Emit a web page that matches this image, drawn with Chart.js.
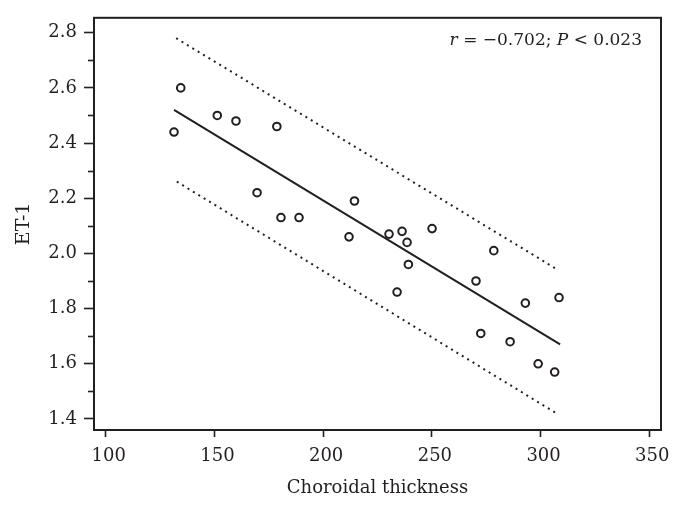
<!DOCTYPE html>
<html>
<head>
<meta charset="utf-8">
<script src="https://cdn.jsdelivr.net/npm/chart.js@4/dist/chart.umd.min.js"></script>
<style>
  html, body { margin: 0; padding: 0; background: #fff; }
  #chart { display: block; }
</style>
</head>
<body>
<canvas id="chart" width="679" height="508"></canvas>
<script>
// choroidal thickness vs ET-1
const thickness = [131.4, 134.5, 151.3, 159.9, 178.7, 169.6, 180.6, 188.9, 214.4, 211.9, 230.3, 236.3,
                   238.6, 250.1, 239.2, 234.0, 278.5, 270.3, 293.0, 308.5, 272.5, 286.0, 298.9, 306.5];
const et1 = [2.44, 2.60, 2.50, 2.48, 2.46, 2.22, 2.13, 2.13, 2.19, 2.06, 2.07, 2.08,
             2.04, 2.09, 1.96, 1.86, 2.01, 1.90, 1.82, 1.84, 1.71, 1.68, 1.60, 1.57];

// fitted line and the two prediction bounds (end points)
const fitX = [131.4, 309.0];
const fitY = [2.52, 1.67];
const upperX = [132.4, 307.0];
const upperY = [2.78, 1.945];
const lowerX = [132.7, 307.4];
const lowerY = [2.26, 1.42];

const xTicks = [100, 150, 200, 250, 300, 350];
const yTicks = [1.4, 1.6, 1.8, 2.0, 2.2, 2.4, 2.6, 2.8];
const yMinorTicks = [1.5, 1.7, 1.9, 2.1, 2.3, 2.5, 2.7];

const statText = [['r', true], [' = \u22120.702; ', false], ['P', true], [' < 0.023', false]];

const INK = '#231f20';
const FONT = "'DejaVu Serif', serif";

const toPts = (xs, ys) => xs.map((x, i) => ({ x: x, y: ys[i] }));

const framePlugin = {
  id: 'frame',
  afterDraw(chart) {
    const { ctx, chartArea: a, scales } = chart;
    ctx.save();
    ctx.strokeStyle = INK;
    ctx.lineWidth = 2;
    ctx.strokeRect(a.left, a.top, a.right - a.left, a.bottom - a.top);

    // short minor ticks on the y axis
    ctx.lineWidth = 1.6;
    yMinorTicks.forEach(v => {
      const py = Math.round(scales.y.getPixelForValue(v)) + 0.5;
      ctx.beginPath();
      ctx.moveTo(a.left - 6, py);
      ctx.lineTo(a.left, py);
      ctx.stroke();
    });

    // r / P annotation, italic letters
    ctx.fillStyle = INK;
    ctx.textBaseline = 'alphabetic';
    const fonts = statText.map(p => (p[1] ? 'italic ' : '') + '17px ' + FONT);
    let total = 0;
    statText.forEach((p, i) => { ctx.font = fonts[i]; total += ctx.measureText(p[0]).width; });
    let x = a.right - 19 - total;
    statText.forEach((p, i) => {
      ctx.font = fonts[i];
      ctx.fillText(p[0], x, a.top + 27);
      x += ctx.measureText(p[0]).width;
    });
    ctx.restore();
  }
};

new Chart(document.getElementById('chart'), {
  type: 'scatter',
  data: {
    datasets: [
      {
        data: toPts(thickness, et1),
        pointStyle: 'circle',
        pointRadius: 3.8,
        pointBorderWidth: 2,
        borderColor: INK,
        backgroundColor: 'rgba(0,0,0,0)',
        showLine: false
      },
      {
        data: toPts(fitX, fitY),
        showLine: true,
        borderColor: INK,
        borderWidth: 2,
        pointRadius: 0
      },
      {
        data: toPts(upperX, upperY),
        showLine: true,
        borderColor: INK,
        borderWidth: 2,
        borderDash: [2, 4.3],
        pointRadius: 0
      },
      {
        data: toPts(lowerX, lowerY),
        showLine: true,
        borderColor: INK,
        borderWidth: 2,
        borderDash: [2, 4.3],
        pointRadius: 0
      }
    ]
  },
  options: {
    responsive: false,
    animation: false,
    devicePixelRatio: 1,
    layout: { padding: { top: 15, right: 18, left: 0, bottom: 0 } },
    plugins: { legend: { display: false }, tooltip: { enabled: false } },
    scales: {
      x: {
        type: 'linear',
        min: 94.6,
        max: 355.4,
        afterBuildTicks: s => { s.ticks = xTicks.map(v => ({ value: v })); },
        afterFit: s => { s.height = 78; },
        border: { display: false },
        grid: { drawOnChartArea: false, drawTicks: true, tickLength: 7, tickColor: INK, tickWidth: 1.6 },
        ticks: { color: INK, font: { family: FONT, size: 18 }, padding: 9, labelOffset: 3, maxRotation: 0 },
        title: {
          display: true,
          text: 'Choroidal thickness',
          color: INK,
          font: { family: FONT, size: 18 },
          padding: { top: 0, bottom: 9 }
        }
      },
      y: {
        type: 'linear',
        min: 1.36,
        max: 2.854,
        afterBuildTicks: s => { s.ticks = yTicks.map(v => ({ value: v })); },
        afterFit: s => { s.width = 94; },
        border: { display: false },
        grid: { drawOnChartArea: false, drawTicks: true, tickLength: 10, tickColor: INK, tickWidth: 1.6 },
        ticks: { color: INK, font: { family: FONT, size: 18 }, padding: 7, callback: v => v.toFixed(1) },
        title: {
          display: true,
          text: 'ET-1',
          color: INK,
          font: { family: FONT, size: 19 },
          padding: { top: 13, bottom: 0 }
        }
      }
    }
  },
  plugins: [framePlugin]
});
</script>
</body>
</html>
